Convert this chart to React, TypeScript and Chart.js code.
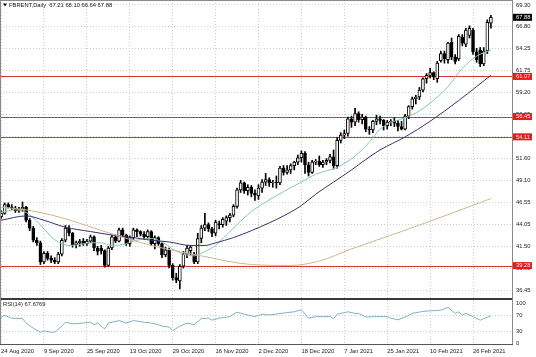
import React, { useEffect, useRef } from "react";
import { Chart, registerables } from "chart.js";
Chart.register(...registerables);

// ---- data (bar index 0 = 24 Aug 2020, one bar per trading day) ----
const openP = [
  44.9, 45.3, 46.3, 46.0, 45.9, 45.6, 45.8, 46.0, 44.5, 43.6,
  42.2, 41.9, 39.7, 40.7, 40.1, 39.9, 39.7, 40.6, 42.2, 43.6,
  43.0, 41.7, 41.9, 42.1, 41.8, 42.1, 42.6, 41.3, 41.3, 41.0,
  39.3, 41.3, 42.6, 42.1, 43.4, 42.8, 41.8, 42.5, 43.4, 43.2,
  42.9, 42.6, 43.2, 41.8, 42.5, 41.8, 40.5, 41.1, 39.3, 37.9,
  37.5, 39.2, 40.6, 41.0, 40.6, 39.7, 42.4, 43.6, 44.0, 43.5,
  43.0, 44.1, 44.0, 44.4, 44.8, 45.1, 46.1, 48.0, 48.8, 47.9,
  48.3, 47.6, 47.3, 48.2, 48.9, 49.2, 48.8, 48.9, 48.8, 50.5,
  50.0, 50.3, 50.8, 51.2, 51.7, 52.2, 50.9, 50.0, 51.2, 51.3,
  50.9, 51.2, 51.4, 51.8, 50.8, 53.7, 54.3, 54.5, 56.2, 55.8,
  56.8, 56.1, 56.4, 55.0, 54.9, 55.9, 56.2, 56.0, 55.4, 55.8,
  55.9, 55.7, 55.3, 55.0, 56.5, 57.6, 58.5, 58.7, 59.5, 60.8,
  61.2, 61.5, 60.8, 62.9, 63.7, 63.0, 65.0, 63.3, 63.1, 65.6,
  64.8, 65.8, 66.4, 63.9, 64.1, 62.5, 64.0, 67.21,
];
const highP = [
  45.6, 46.5, 46.5, 46.3, 46.1, 46.0, 46.6, 46.1, 44.7, 43.8,
  42.5, 42.1, 40.9, 40.9, 40.4, 40.2, 40.8, 42.4, 43.9, 43.9,
  43.1, 42.1, 42.3, 42.4, 42.3, 42.8, 42.7, 41.5, 41.6, 41.1,
  41.5, 42.8, 42.8, 43.6, 43.6, 42.9, 42.7, 43.6, 43.5, 43.3,
  43.2, 43.4, 43.3, 42.7, 42.6, 41.9, 41.4, 41.3, 39.5, 38.4,
  39.4, 40.9, 41.6, 41.6, 40.8, 43.0, 43.9, 45.3, 44.2, 43.7,
  44.5, 44.4, 44.8, 45.0, 45.3, 46.3, 48.2, 49.1, 48.9, 48.6,
  48.5, 48.0, 48.6, 49.2, 49.9, 49.4, 49.1, 49.6, 50.7, 50.8,
  50.8, 51.0, 51.3, 52.0, 52.5, 52.4, 51.2, 51.4, 51.5, 51.9,
  51.4, 51.6, 52.1, 52.6, 54.0, 54.6, 54.9, 56.4, 56.5, 57.4,
  57.0, 56.7, 56.5, 55.3, 56.0, 56.6, 56.5, 56.1, 56.0, 56.1,
  56.3, 56.0, 55.9, 56.7, 57.7, 58.7, 58.9, 59.8, 60.9, 61.4,
  62.0, 61.6, 62.8, 64.0, 64.0, 65.0, 65.5, 63.6, 65.9, 65.9,
  66.6, 66.9, 66.6, 64.3, 64.4, 64.4, 67.6, 68.1,
];
const lowP = [
  44.7, 45.2, 45.9, 45.7, 45.4, 45.4, 45.5, 44.3, 43.3, 42.0,
  41.6, 39.4, 39.5, 39.9, 39.6, 39.5, 39.5, 40.4, 42.0, 42.7,
  41.4, 41.3, 41.5, 41.6, 41.6, 41.9, 41.0, 40.5, 40.6, 39.1,
  39.2, 41.1, 41.9, 42.0, 42.6, 41.6, 41.5, 42.3, 42.6, 42.7,
  42.3, 42.4, 41.6, 41.2, 41.6, 40.2, 40.3, 39.0, 37.6, 37.3,
  36.6, 39.0, 40.2, 40.5, 39.5, 39.5, 41.9, 43.3, 43.2, 42.6,
  42.7, 43.5, 43.7, 43.9, 44.3, 44.9, 45.9, 47.7, 47.6, 47.4,
  47.2, 46.8, 46.9, 47.7, 48.5, 48.4, 48.3, 48.2, 48.6, 49.7,
  49.8, 49.9, 50.3, 50.9, 51.2, 49.9, 49.6, 49.9, 50.9, 50.7,
  50.6, 50.9, 51.1, 50.4, 50.5, 53.4, 53.9, 54.2, 55.2, 55.4,
  55.8, 55.6, 54.7, 54.4, 54.6, 55.5, 55.6, 54.9, 55.0, 55.4,
  55.3, 54.8, 54.9, 54.9, 56.2, 57.3, 57.9, 58.4, 59.3, 60.3,
  60.9, 60.7, 60.4, 62.7, 62.6, 62.6, 63.0, 62.5, 62.9, 64.6,
  64.5, 65.5, 63.6, 62.7, 62.2, 62.3, 63.7, 66.64,
];
const closeP = [
  45.3, 46.3, 46.0, 45.9, 45.6, 45.8, 46.0, 44.5, 43.6, 42.2,
  41.9, 39.7, 40.7, 40.1, 39.9, 39.7, 40.6, 42.2, 43.6, 43.0,
  41.7, 41.9, 42.1, 41.8, 42.1, 42.6, 41.3, 40.9, 41.0, 39.3,
  41.3, 42.6, 42.1, 43.4, 42.8, 41.8, 42.5, 43.4, 43.2, 42.9,
  42.6, 43.2, 41.8, 42.5, 41.8, 40.5, 41.1, 39.3, 37.9, 37.6,
  39.2, 40.6, 41.3, 41.4, 39.7, 42.4, 43.6, 44.0, 43.5, 43.0,
  44.3, 44.0, 44.6, 44.8, 45.1, 46.1, 48.0, 48.8, 47.9, 48.3,
  47.6, 47.4, 48.2, 48.9, 49.2, 48.8, 48.9, 48.8, 50.5, 50.0,
  50.3, 50.8, 51.2, 51.7, 52.2, 50.9, 50.0, 51.2, 51.3, 50.9,
  51.2, 51.4, 51.8, 50.8, 53.7, 54.3, 54.5, 56.2, 55.8, 56.8,
  56.1, 56.4, 55.0, 54.9, 55.9, 56.2, 56.0, 55.4, 55.8, 55.9,
  55.7, 55.3, 55.0, 56.5, 57.6, 58.5, 58.7, 59.5, 60.8, 61.2,
  61.5, 61.0, 62.6, 63.7, 63.1, 64.9, 63.3, 62.8, 65.7, 64.9,
  66.4, 66.6, 63.9, 63.0, 62.5, 64.0, 67.3, 67.88,
];

// moving averages: [bar index, value]
const maFast: [number, number][] = [
  [0, 45.4], [4, 45.7], [7, 45.4], [10, 44.4], [12, 43.5], [14, 42.6], [16, 42.0],
  [19, 41.6], [22, 41.7], [25, 41.9], [28, 41.9], [31, 41.6], [34, 41.7], [38, 42.2],
  [42, 42.4], [45, 42.0], [48, 41.2], [51, 40.6], [54, 40.4], [57, 40.9], [60, 41.6],
  [63, 42.8], [66, 44.0], [70, 45.5], [74, 46.6], [79, 47.8], [84, 48.9], [88, 49.8],
  [94, 50.6], [99, 51.9], [103, 53.5], [106, 55.0], [110, 55.9], [113, 56.3],
  [117, 57.1], [120, 58.0], [125, 59.9], [129, 62.0], [133, 63.4], [137, 64.1],
];
const maMid: [number, number][] = [
  [0, 44.5], [7, 45.0], [12, 44.5], [18, 43.7], [25, 43.2], [31, 42.8], [37, 42.5],
  [42, 42.2], [47, 42.0], [53, 41.6], [57, 41.6], [60, 41.9], [65, 42.5], [70, 43.3],
  [75, 44.2], [79, 45.0], [84, 46.2], [88, 47.5], [93, 48.9], [98, 50.3], [102, 51.5],
  [106, 52.6], [113, 54.1], [120, 55.9], [128, 58.3], [133, 59.9], [137, 61.2],
];
const maSlow: [number, number][] = [
  [0, 46.0], [7, 45.7], [16, 44.9], [32, 42.8], [42, 41.6], [56, 40.4], [70, 39.4],
  [81, 39.3], [89, 39.8], [98, 41.2], [112, 43.2], [126, 45.3], [137, 47.0],
];
const rsiLine: [number, number][] = [
  [0, 64], [1, 69], [3, 62], [6, 61], [7, 50], [9, 37], [11, 27], [12, 30], [14, 27],
  [15, 27], [17, 42], [18, 52], [20, 48], [22, 49], [25, 52], [26, 46], [27, 50],
  [29, 35], [30, 50], [33, 56], [35, 50], [37, 56], [40, 52], [42, 50], [44, 46],
  [45, 42], [47, 40], [48, 31], [50, 42], [52, 50], [54, 46], [56, 61], [58, 62],
  [59, 57], [61, 62], [64, 66], [66, 77], [68, 72], [71, 66], [73, 72], [75, 70],
  [79, 75], [82, 78], [84, 83], [86, 62], [88, 66], [92, 66], [93, 61], [94, 72],
  [97, 78], [99, 74], [100, 74], [102, 65], [105, 66], [108, 66], [109, 62],
  [111, 58], [113, 65], [115, 74], [118, 79], [121, 81], [123, 82], [125, 89],
  [127, 74], [128, 78], [129, 70], [130, 74], [132, 66], [134, 57], [135, 61], [137, 68],
];

const dateLabels = [
  "24 Aug 2020", "9 Sep 2020", "25 Sep 2020", "13 Oct 2020", "29 Oct 2020", "16 Nov 2020",
  "2 Dec 2020", "18 Dec 2020", "7 Jan 2021", "25 Jan 2021", "10 Feb 2021", "26 Feb 2021",
];
const dateLabelIdx = [0, 12, 24, 36, 48, 60, 72, 84, 96, 108, 120, 132];
const priceTicks = [69.3, 66.8, 64.25, 61.75, 59.2, 56.65, 54.13, 51.6, 49.1, 46.55, 44.05, 41.5, 38.98, 36.45];
const levelLines = [61.07, 56.45, 54.11, 39.28];
const rsiTicks = [100, 70, 30, 0];
const titleText = "FBRENT,Daily  67.21 68.10 66.64 67.88";
const rsiTitle = "RSI(14) 67.6769";
const lastClose = 67.88;

const FONT = "Liberation Sans";
const FS = 5.8;
const TXT = "#1a1a1a";
const GRID = "#cfcfcf";
const X_MIN = -0.3;
const X_MAX = 142.9;
const AXIS_W = 24;

function xScale(showLabels: boolean, height: number) {
  return {
    type: "linear" as const,
    min: X_MIN,
    max: X_MAX,
    offset: false,
    afterBuildTicks: (s: any) => {
      s.ticks = dateLabelIdx.map((v) => ({ value: v }));
    },
    afterFit: (s: any) => {
      s.height = height;
      s.paddingLeft = 0;
      s.paddingRight = 0;
    },
    grid: { color: GRID, lineWidth: 1, drawTicks: false, offset: false },
    border: { display: false, dash: [1, 2] },
    ticks: {
      display: showLabels,
      autoSkip: false,
      maxRotation: 0,
      minRotation: 0,
      align: "start" as const,
      padding: 4,
      color: TXT,
      font: { family: FONT, size: FS },
      callback: (v: any) => {
        const k = dateLabelIdx.indexOf(Number(v));
        return k >= 0 ? dateLabels[k] : "";
      },
    },
  };
}

const mainDeco = {
  id: "mainDeco",
  beforeDatasetsDraw(chart: any) {
    const { ctx, chartArea, scales } = chart;
    const y = scales.y;
    ctx.save();
    ctx.strokeStyle = "#d83434";
    ctx.lineWidth = 1;
    levelLines.forEach((v) => {
      const py = Math.round(y.getPixelForValue(v)) + 0.5;
      ctx.beginPath();
      ctx.moveTo(chartArea.left, py);
      ctx.lineTo(chartArea.right, py);
      ctx.stroke();
    });
    ctx.restore();
  },
  afterDraw(chart: any) {
    const { ctx, chartArea, scales } = chart;
    const y = scales.y;
    const r = chartArea.right;
    ctx.save();
    ctx.strokeStyle = "#8a8a8a";
    ctx.lineWidth = 1;
    ctx.beginPath();
    ctx.moveTo(r + 0.5, 0);
    ctx.lineTo(r + 0.5, chart.height);
    ctx.moveTo(0, 0.5);
    ctx.lineTo(r, 0.5);
    ctx.moveTo(0.5, 0);
    ctx.lineTo(0.5, chart.height);
    ctx.stroke();

    ctx.font = `${FS}px ${FONT}`;
    ctx.textBaseline = "middle";
    ctx.textAlign = "left";
    levelLines.forEach((v) => {
      const py = y.getPixelForValue(v);
      ctx.fillStyle = "#e01e1e";
      ctx.fillRect(r + 1, py - 3.5, 19, 7);
      ctx.fillStyle = "#ffe8e8";
      ctx.fillText(v.toFixed(2), r + 4, py + 0.3);
    });
    const pc = y.getPixelForValue(lastClose);
    ctx.fillStyle = "#000";
    ctx.fillRect(r + 1, pc - 3.5, 19, 7);
    ctx.fillStyle = "#fff";
    ctx.fillText(lastClose.toFixed(2), r + 4, pc + 0.3);

    // title
    ctx.fillStyle = "#111";
    ctx.beginPath();
    ctx.moveTo(3, 3.5);
    ctx.lineTo(7, 3.5);
    ctx.lineTo(5, 6.5);
    ctx.closePath();
    ctx.fill();
    ctx.fillStyle = TXT;
    ctx.fillText(titleText, 9, 5.5);
    ctx.restore();
  },
};

const rsiDeco = {
  id: "rsiDeco",
  afterDraw(chart: any) {
    const { ctx, chartArea } = chart;
    const r = chartArea.right;
    ctx.save();
    ctx.fillStyle = "#3a3a3a";
    ctx.fillRect(0, 0, r + 1, 2);
    ctx.strokeStyle = "#8a8a8a";
    ctx.lineWidth = 1;
    ctx.beginPath();
    ctx.moveTo(r + 0.5, 0);
    ctx.lineTo(r + 0.5, chartArea.bottom + 1);
    ctx.moveTo(0.5, 0);
    ctx.lineTo(0.5, chartArea.bottom + 1);
    ctx.stroke();
    ctx.strokeStyle = "#555";
    ctx.beginPath();
    ctx.moveTo(0, chartArea.bottom + 0.5);
    ctx.lineTo(r + 1, chartArea.bottom + 0.5);
    ctx.stroke();
    ctx.font = `${FS}px ${FONT}`;
    ctx.textBaseline = "middle";
    ctx.textAlign = "left";
    ctx.fillStyle = TXT;
    ctx.fillText(rsiTitle, 3, 6.5);
    ctx.restore();
  },
};

export default function App() {
  const mainRef = useRef<HTMLCanvasElement>(null);
  const rsiRef = useRef<HTMLCanvasElement>(null);

  useEffect(() => {
    const bodies = openP.map((o, i) => ({ x: i, y: [o, closeP[i]] }));
    const wicks = lowP.map((l, i) => ({ x: i, y: [l, highP[i]] }));
    const line = (pts: [number, number][], color: string) => ({
      type: "line" as const,
      data: pts.map(([x, y]) => ({ x, y })),
      borderColor: color,
      borderWidth: 1,
      pointRadius: 0,
      cubicInterpolationMode: "monotone" as const,
      order: 0,
    });

    const main = new Chart(mainRef.current as HTMLCanvasElement, {
      type: "bar",
      data: {
        datasets: [
          line(maSlow, "#d6b48e"),
          line(maMid, "#34346e"),
          line(maFast, "#86c6bb"),
          {
            type: "bar",
            data: bodies as any,
            backgroundColor: (c: any) =>
              closeP[c.dataIndex] >= openP[c.dataIndex] ? "#ffffff" : "#000000",
            borderColor: "#000000",
            borderWidth: 1,
            borderSkipped: false,
            barThickness: 3,
            grouped: false,
            order: 1,
          } as any,
          {
            type: "bar",
            data: wicks as any,
            backgroundColor: "#000000",
            borderWidth: 0,
            barThickness: 1,
            grouped: false,
            order: 2,
          } as any,
        ],
      },
      options: {
        animation: false,
        responsive: false,
        maintainAspectRatio: false,
        layout: { padding: 0 },
        plugins: { legend: { display: false }, tooltip: { enabled: false } },
        scales: {
          x: xScale(false, 0) as any,
          y: {
            type: "linear",
            position: "right",
            min: 35.544,
            max: 69.876,
            afterBuildTicks: (s: any) => {
              s.ticks = priceTicks.map((v) => ({ value: v }));
            },
            afterFit: (s: any) => {
              s.width = AXIS_W;
              s.paddingTop = 0;
              s.paddingBottom = 0;
            },
            grid: { color: GRID, lineWidth: 1, drawTicks: false },
            border: { display: false, dash: [1, 2] },
            ticks: {
              autoSkip: false,
              padding: 4,
              color: TXT,
              font: { family: FONT, size: FS },
              callback: (v: any) => Number(v).toFixed(2),
            },
          } as any,
        },
      },
      plugins: [mainDeco],
    });

    const rsi = new Chart(rsiRef.current as HTMLCanvasElement, {
      type: "line",
      data: {
        datasets: [
          {
            data: rsiLine.map(([x, y]) => ({ x, y })),
            borderColor: "#7fb2c6",
            borderWidth: 1,
            pointRadius: 0,
            tension: 0,
          },
        ],
      },
      options: {
        animation: false,
        responsive: false,
        maintainAspectRatio: false,
        layout: { padding: { top: 2, left: 0, right: 0, bottom: 0 } },
        plugins: { legend: { display: false }, tooltip: { enabled: false } },
        scales: {
          x: xScale(true, 13) as any,
          y: {
            type: "linear",
            position: "right",
            min: -2.5,
            max: 107.5,
            afterBuildTicks: (s: any) => {
              s.ticks = rsiTicks.map((v) => ({ value: v }));
            },
            afterFit: (s: any) => {
              s.width = AXIS_W;
              s.paddingTop = 0;
              s.paddingBottom = 0;
            },
            grid: {
              color: (c: any) =>
                c.tick && (c.tick.value === 70 || c.tick.value === 30) ? GRID : "rgba(0,0,0,0)",
              lineWidth: 1,
              drawTicks: false,
            },
            border: { display: false, dash: [1, 2] },
            ticks: {
              autoSkip: false,
              padding: 4,
              color: TXT,
              font: { family: FONT, size: FS },
            },
          } as any,
        },
      },
      plugins: [rsiDeco],
    });

    return () => {
      main.destroy();
      rsi.destroy();
    };
  }, []);

  return (
    <div style={{ position: "absolute", left: 0, top: 0, width: 536, height: 357, background: "#ffffff" }}>
      <canvas
        ref={mainRef}
        width={536}
        height={298}
        style={{ position: "absolute", left: 0, top: 0, width: 536, height: 298 }}
      />
      <canvas
        ref={rsiRef}
        width={536}
        height={59}
        style={{ position: "absolute", left: 0, top: 298, width: 536, height: 59 }}
      />
    </div>
  );
}
